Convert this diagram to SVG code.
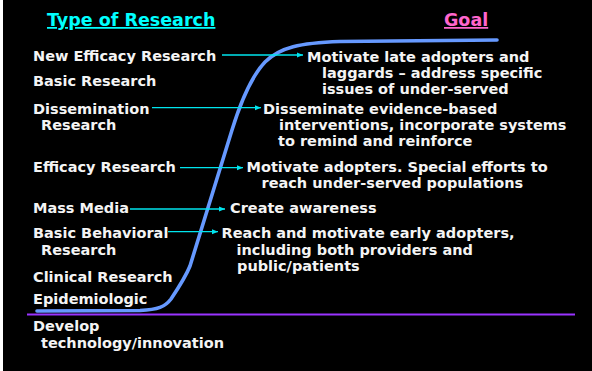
<svg xmlns="http://www.w3.org/2000/svg" width="592" height="371" viewBox="0 0 592 371">
  <style>
    text { font-family: "DejaVu Sans", Verdana, sans-serif; font-weight: bold; }
    .head { font-size: 17.5px; text-decoration: underline; }
    .lbl { font-size: 14.5px; fill: #f4f4f4; }
    .conn { stroke: #00e5ee; stroke-width: 1.3; fill: none; }
  </style>
  <defs>
    <marker id="arrow" markerUnits="userSpaceOnUse" markerWidth="7" markerHeight="6" refX="6" refY="3" orient="auto">
      <path d="M0,0.5 L6,3 L0,5.5 Z" fill="#00e5ee"/>
    </marker>
  </defs>

  <!-- slide background -->
  <rect x="0" y="0" width="592" height="371" fill="#ffffff"/>
  <rect x="3" y="0" width="589" height="371" fill="#000000"/>

  <!-- column headings -->
  <g id="heading-type">
    <text class="head" x="47" y="26" fill="#00ffff">Type of Research</text>
  </g>
  <g id="heading-goal">
    <text class="head" x="444" y="26" fill="#ff66cc">Goal</text>
  </g>

  <!-- adoption S-curve and baseline -->
  <g id="adoption-curve">
    <path d="M37,311 L140,310.5 C158,309.5 165,307 171,299 C177,290 186,276 190,266 L232,130 C240,104 250,78 265,62 C280,47 300,43 340,41.5 L497,40" fill="none" stroke="#6699ff" stroke-width="3.6" stroke-linecap="round" stroke-linejoin="round"/>
  </g>
  <g id="baseline">
    <line x1="27" y1="314.5" x2="575" y2="314.5" stroke="#9933ff" stroke-width="2"/>
  </g>

  <!-- research types -->
  <g id="type-new-efficacy"><text class="lbl" x="33" y="61">New Efficacy Research</text></g>
  <g id="type-basic"><text class="lbl" x="33" y="86">Basic Research</text></g>
  <g id="type-dissemination">
    <text class="lbl" x="33" y="114">Dissemination</text>
    <text class="lbl" x="41" y="130">Research</text>
  </g>
  <g id="type-efficacy"><text class="lbl" x="33" y="172">Efficacy Research</text></g>
  <g id="type-mass-media"><text class="lbl" x="33" y="213">Mass Media</text></g>
  <g id="type-basic-behavioral">
    <text class="lbl" x="33" y="238">Basic Behavioral</text>
    <text class="lbl" x="41" y="255">Research</text>
  </g>
  <g id="type-clinical"><text class="lbl" x="33" y="282">Clinical Research</text></g>
  <g id="type-epidemiologic"><text class="lbl" x="33" y="304">Epidemiologic</text></g>
  <g id="type-develop">
    <text class="lbl" x="33" y="331">Develop</text>
    <text class="lbl" x="41" y="348">technology/innovation</text>
  </g>

  <!-- goals -->
  <g id="goal-late-adopters">
    <text class="lbl" x="307" y="61.5">Motivate late adopters and</text>
    <text class="lbl" x="322" y="77.5">laggards – address specific</text>
    <text class="lbl" x="322" y="93.5">issues of under-served</text>
  </g>
  <g id="goal-disseminate">
    <text class="lbl" x="263" y="113.5">Disseminate evidence-based</text>
    <text class="lbl" x="279" y="129.5">interventions, incorporate systems</text>
    <text class="lbl" x="278" y="145.5">to remind and reinforce</text>
  </g>
  <g id="goal-adopters">
    <text class="lbl" x="246.5" y="172">Motivate adopters. Special efforts to</text>
    <text class="lbl" x="261.5" y="188">reach under-served populations</text>
  </g>
  <g id="goal-awareness">
    <text class="lbl" x="230" y="213">Create awareness</text>
  </g>
  <g id="goal-early-adopters">
    <text class="lbl" x="221.5" y="238">Reach and motivate early adopters,</text>
    <text class="lbl" x="236.5" y="254.5">including both providers and</text>
    <text class="lbl" x="237" y="270.5">public/patients</text>
  </g>

  <!-- connectors from research type to goal -->
  <g id="connectors">
    <line class="conn" x1="222" y1="55" x2="303" y2="55" marker-end="url(#arrow)"/>
    <line class="conn" x1="152" y1="107.7" x2="261" y2="107.7" marker-end="url(#arrow)"/>
    <line class="conn" x1="180" y1="167.7" x2="243" y2="167.7" marker-end="url(#arrow)"/>
    <line class="conn" x1="130" y1="209" x2="225" y2="209" marker-end="url(#arrow)"/>
    <line class="conn" x1="168" y1="231.7" x2="218" y2="231.7" marker-end="url(#arrow)"/>
  </g>
</svg>
